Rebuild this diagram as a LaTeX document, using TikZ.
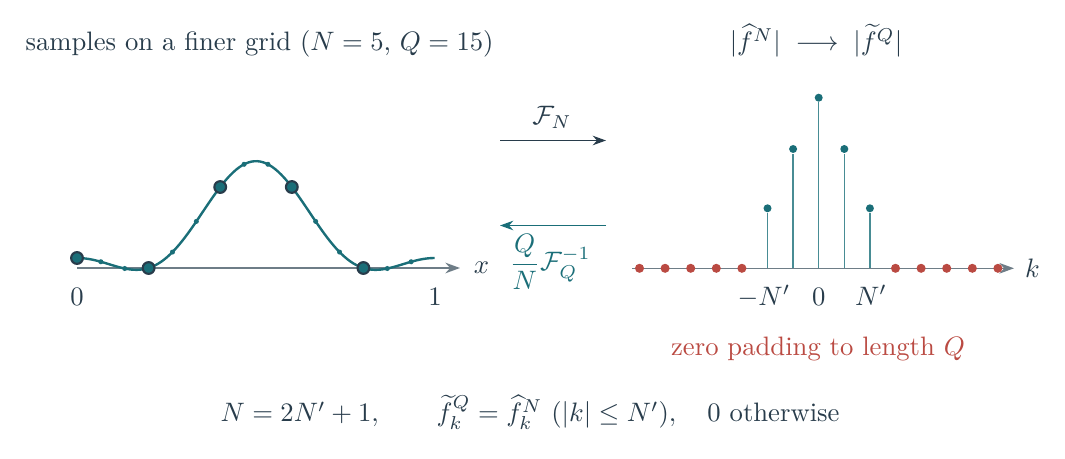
\documentclass[tikz,border=0pt]{standalone}
\usepackage{amsmath,amssymb}
\usetikzlibrary{arrows.meta,positioning}

\definecolor{ink}{RGB}{40,60,75}
\definecolor{tealc}{RGB}{26,110,120}
\definecolor{stemc}{RGB}{72,140,148}
\definecolor{padred}{RGB}{186,74,66}
\definecolor{axisgray}{RGB}{110,125,135}

\tikzset{
    axisline/.style={draw=axisgray, line width=0.5pt, -{Stealth[length=5.5pt,width=4pt]}},
    bigdot/.style={circle, fill=tealc, draw=ink, line width=0.8pt, inner sep=0pt, minimum size=4.4pt},
    smalldot/.style={circle, fill=tealc, inner sep=0pt, minimum size=1.9pt},
    stemdot/.style={circle, fill=tealc, inner sep=0pt, minimum size=3pt},
    paddot/.style={circle, fill=padred, inner sep=0pt, minimum size=3.4pt},
    stemline/.style={draw=stemc, line width=0.55pt},
    txt/.style={text=ink, inner sep=0pt},
    maparrow/.style={line width=0.5pt, -{Stealth[length=5pt,width=3.6pt]}}
}

\begin{document}
\begin{tikzpicture}[x=0.375pt, y=-0.375pt,
        declare function={sig(\t)=34.39+48.42*cos(360*(\t-0.5))+24.03*cos(720*(\t-0.5));}]
    \useasboundingbox (0,0) rectangle (1065,459);

    % titles
    \node[txt, anchor=base west] (title) at (25,51) {samples on a finer grid ($N=5$, $Q=15$)};
    \node[txt, anchor=base] (spec) at (816,51) {$|\widehat{f}^{N}| \;\longrightarrow\; |\widetilde{f}^{Q}|$};

    % left: signal on [0,1]
    \coordinate (x0) at (77,268);
    \coordinate (x1) at (460,268);
    \draw[axisline] (x0) -- (x1);
    \node[txt, right=5pt of x1, anchor=west] (xlab) {$x$};
    \node[txt, anchor=base] (t0) at (77,305) {$0$};
    \node[txt, anchor=base] (t1) at (435,305) {$1$};
    \draw[tealc, line width=0.9pt] plot[domain=0:1, samples=120, smooth] ({77+358*\x}, {268-sig(\x)});
    \foreach \j in {1,2,4,5,7,8,10,11,13,14}
        \node[smalldot] (q\j) at ({77+358*\j/15}, {268-sig(\j/15)}) {};
    \foreach \j in {0,...,4}
        \node[bigdot] (p\j) at ({77+358*\j/5}, {268-sig(\j/5)}) {};

    % transforms
    \coordinate (fa) at (500,140.5);
    \coordinate (fb) at (606,140.5);
    \draw[maparrow, ink] (fa) -- (fb);
    \node[txt, anchor=base] (fwd) at (552,125) {$\mathcal{F}_N$};
    \coordinate (ia) at (606,225.5);
    \coordinate (ib) at (500,225.5);
    \draw[maparrow, tealc] (ia) -- (ib);
    \node[inner sep=0pt, text=tealc] (inv) at (550,262) {$\dfrac{Q}{N}\mathcal{F}_Q^{-1}$};

    % right: spectrum with zero padding
    \coordinate (k0) at (632,268.3);
    \coordinate (k1) at (1014,268.3);
    \draw[axisline] (k0) -- (k1);
    \node[txt, right=4pt of k1, anchor=west] (klab) {$k$};
    \foreach \k/\h in {-2/60, -1/119.3, 0/170.6, 1/119.3, 2/60} {
        \coordinate (s\k) at ({818.7+25.6*\k}, 268.3);
        \node[stemdot] (c\k) at ({818.7+25.6*\k}, {268.3-\h}) {};
        \draw[stemline] (s\k) -- (c\k);
    }
    \foreach \k in {-7,...,-3,3,4,...,7}
        \node[paddot] (z\k) at ({818.7+25.6*\k}, 268.3) {};
    \node[txt, anchor=base] (lm) at (764,305) {$-N'$};
    \node[txt, anchor=base] (l0) at (818.7,305) {$0$};
    \node[txt, anchor=base] (lp) at (871,305) {$N'$};
    \node[inner sep=0pt, text=padred, anchor=base] (pad) at (818,355) {zero padding to length $Q$};

    % relation
    \node[txt, anchor=base west] (rel) at (220,421.7)
        {$N=2N'+1,\qquad \widetilde{f}^{Q}_{k}=\widehat{f}^{N}_{k}\ (|k|\le N'),\quad 0$ otherwise};
\end{tikzpicture}
\end{document}
